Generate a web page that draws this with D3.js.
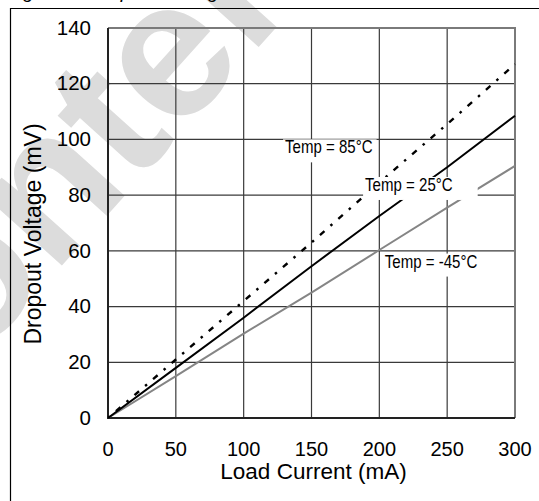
<!DOCTYPE html>
<html>
<head>
<meta charset="utf-8">
<script src="https://cdn.jsdelivr.net/npm/d3@7.9.0/dist/d3.min.js"></script>
<style>
  html, body { margin: 0; padding: 0; background: #fff; }
  svg { display: block; }
</style>
</head>
<body>
<svg id="chart" width="539" height="501"></svg>
<script>
// ---- data ----
const loadCurrent = [0, 50, 100, 150, 200, 250, 300];          // mA
const dropout85 = [0, 21, 42, 63, 84.5, 105.5, 127];            // mV, Temp = 85°C
const dropout25 = [0, 18, 36, 54.5, 72.5, 90, 108.5];           // mV, Temp = 25°C
const dropoutM45 = [0, 15, 30.3, 45, 60.3, 75.5, 90.5];         // mV, Temp = -45°C

const xTicks = [0, 50, 100, 150, 200, 250, 300];
const yTicks = [0, 20, 40, 60, 80, 100, 120, 140];

const seriesNames = ['Temp = 85°C', 'Temp = 25°C', 'Temp = -45°C'];
// label anchors in data units (mA, mV), box right edge in mA
const labelCurrent = [130.5, 189.5, 204];
const labelVoltage = [95, 81.5, 54];
const labelBoxTo = [198, 272.5, 274];

const W = 539, H = 501;
const margin = { left: 108, top: 28, right: 24, bottom: 83 };
const baseFont = 'Liberation Sans, Arial, sans-serif';

const svg = d3.select('#chart');

// ---- watermark behind everything ----
svg.append('text')
  .attr('transform', 'translate(-122,470) rotate(-48)')
  .attr('font-family', baseFont)
  .attr('font-weight', 'bold')
  .attr('font-size', 196)
  .attr('fill', '#dcdcdc')
  .text('Content');

// cropped caption, only descenders show
svg.append('text')
  .attr('x', 7)
  .attr('y', -2)
  .attr('font-family', baseFont)
  .attr('font-style', 'italic')
  .attr('font-size', 19.5)
  .attr('fill', '#000')
  .text('Figure 5: Dropout Voltage vs. Load Current');

// outer frame (runs off the right and bottom)
svg.append('path')
  .attr('d', `M10.5,${H + 5} V8.5 H${W + 5}`)
  .attr('fill', 'none')
  .attr('stroke', '#000')
  .attr('stroke-width', 1.2);

const x = d3.scaleLinear().domain([0, 300]).range([margin.left, W - margin.right]);
const y = d3.scaleLinear().domain([0, 140]).range([H - margin.bottom, margin.top]);

// ---- grid ----
const grid = svg.append('g').attr('stroke', '#3a3a3a').attr('stroke-width', 1.2);
grid.selectAll('line.v')
  .data(xTicks.slice(1, -1))
  .join('line')
  .attr('class', 'v')
  .attr('x1', (d) => x(d)).attr('x2', (d) => x(d))
  .attr('y1', y(0)).attr('y2', y(140));
grid.selectAll('line.h')
  .data(yTicks.slice(1, -1))
  .join('line')
  .attr('class', 'h')
  .attr('x1', x(0)).attr('x2', x(300))
  .attr('y1', (d) => y(d)).attr('y2', (d) => y(d));

// plot frame: top/right lighter, axes darker
svg.append('path')
  .attr('d', `M${x(0)},${y(140)} H${x(300)} V${y(0)}`)
  .attr('fill', 'none')
  .attr('stroke', '#7a7a7a')
  .attr('stroke-width', 2);
svg.append('path')
  .attr('d', `M${x(0)},${y(140)} V${y(0)} H${x(300)}`)
  .attr('fill', 'none')
  .attr('stroke', '#222')
  .attr('stroke-width', 2);

// ---- curves ----
const line = d3.line()
  .x((d, i) => x(loadCurrent[i]))
  .y((d) => y(d));

svg.append('path')
  .datum(dropoutM45)
  .attr('d', line)
  .attr('fill', 'none')
  .attr('stroke', '#858585')
  .attr('stroke-width', 2);

svg.append('path')
  .datum(dropout25)
  .attr('d', line)
  .attr('fill', 'none')
  .attr('stroke', '#000')
  .attr('stroke-width', 2);

svg.append('path')
  .datum(dropout85)
  .attr('d', line)
  .attr('fill', 'none')
  .attr('stroke', '#000')
  .attr('stroke-width', 2.4)
  .attr('stroke-dasharray', '2.5,8,6,8');

// ---- curve labels on white boxes (narrowed text) ----
const squeeze = 0.86;
seriesNames.forEach((name, i) => {
  const lx = x(labelCurrent[i]);
  const ly = y(labelVoltage[i]);
  const g = svg.append('g');
  const rect = g.append('rect').attr('fill', '#fff');
  const t = g.append('text')
    .attr('transform', `translate(${lx},${ly}) scale(${squeeze},1)`)
    .attr('font-family', baseFont)
    .attr('font-size', 17.5)
    .attr('fill', '#000')
    .text(name);
  const w = t.node().getBBox().width * squeeze;
  const right = Math.max(lx + w + 2, x(labelBoxTo[i]));
  rect
    .attr('x', lx - 2)
    .attr('y', ly - 14)
    .attr('width', right - lx + 2)
    .attr('height', 23);
});

// ---- tick labels ----
svg.append('g')
  .selectAll('text')
  .data(xTicks)
  .join('text')
  .attr('x', (d) => x(d))
  .attr('y', 456)
  .attr('text-anchor', 'middle')
  .attr('font-family', baseFont)
  .attr('font-size', 20)
  .text((d) => d);

svg.append('g')
  .selectAll('text')
  .data(yTicks)
  .join('text')
  .attr('x', margin.left - 17)
  .attr('y', (d) => y(d))
  .attr('dy', '0.33em')
  .attr('text-anchor', 'end')
  .attr('font-family', baseFont)
  .attr('font-size', 20.5)
  .text((d) => d);

// ---- axis titles ----
svg.append('text')
  .attr('x', (x(0) + x(300)) / 2 + 2)
  .attr('y', 479)
  .attr('text-anchor', 'middle')
  .attr('font-family', baseFont)
  .attr('font-size', 22.5)
  .text('Load Current (mA)');

svg.append('text')
  .attr('transform', `translate(41,${(y(0) + y(140)) / 2 + 11}) rotate(-90)`)
  .attr('text-anchor', 'middle')
  .attr('font-family', baseFont)
  .attr('font-size', 23)
  .text('Dropout Voltage (mV)');
</script>
</body>
</html>
